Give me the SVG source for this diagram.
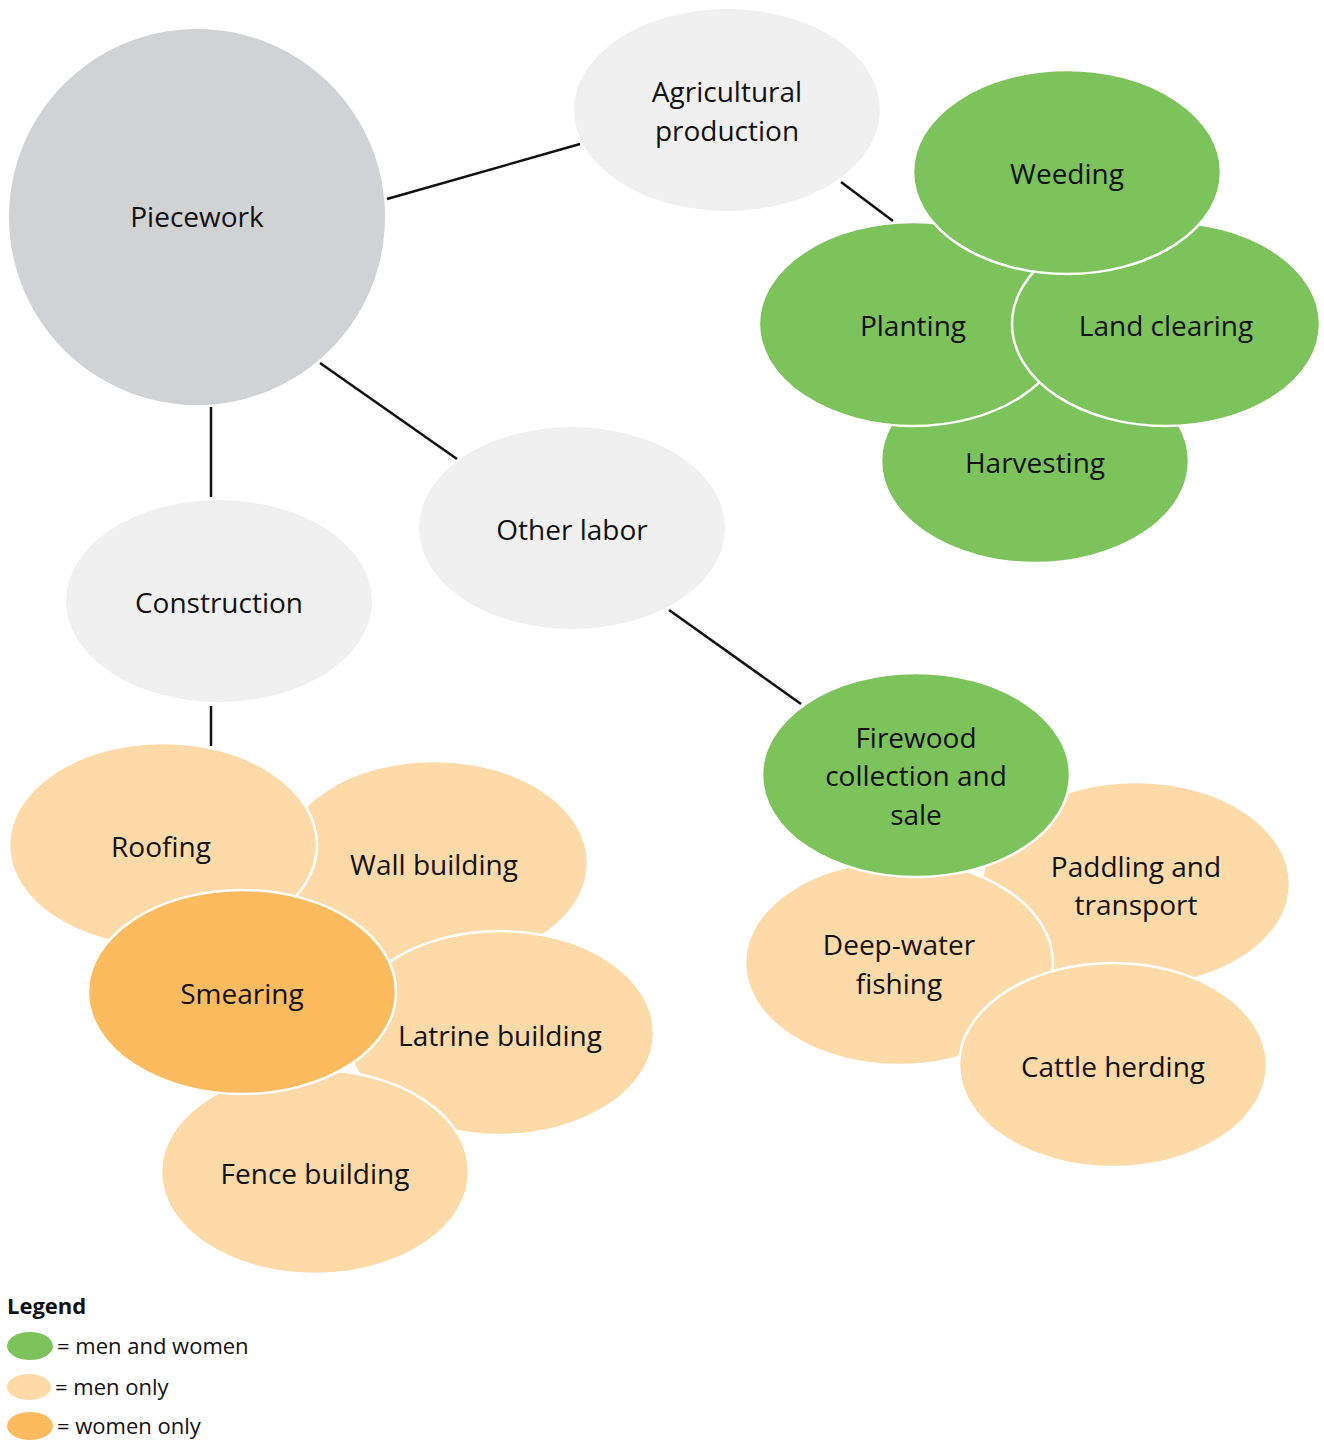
<svg xmlns="http://www.w3.org/2000/svg" width="1324" height="1443" viewBox="0 0 1324 1443">
<style>
text{font-family:"Open Sans","Liberation Sans",sans-serif;font-size:28px;fill:#111;text-anchor:middle}
.g{fill:#7dc35c;stroke:#fff;stroke-width:2.5}
.m{fill:#fddaa8;stroke:#fff;stroke-width:2.5}
.w{fill:#fdbb60;stroke:#fff;stroke-width:2.5}
.c{fill:#f0f0f0}
.conn line{stroke:#111;stroke-width:2.5}
.lg{font-size:22px;text-anchor:start}
</style>
<rect width="1324" height="1443" fill="#fff"/>
<g class="conn" id="connectors">
<line x1="387" y1="199" x2="580" y2="144"/>
<line x1="841" y1="182" x2="893" y2="221"/>
<line x1="320" y1="363" x2="457" y2="459"/>
<line x1="211" y1="407" x2="211" y2="497"/>
<line x1="669" y1="610" x2="801" y2="704"/>
<line x1="211" y1="706" x2="211" y2="746"/>
</g>
<g id="piecework"><circle cx="197" cy="217" r="188" fill="#d1d2d4"/><text x="197" y="227">Piecework</text></g>
<g id="agri"><ellipse class="c" cx="727" cy="110" rx="153" ry="101"/><text x="727" y="102">Agricultural</text><text x="727" y="141">production</text></g>
<g id="other"><ellipse class="c" cx="572" cy="528" rx="153" ry="101"/><text x="572" y="540">Other labor</text></g>
<g id="construction"><ellipse class="c" cx="219" cy="601" rx="153" ry="101"/><text x="219" y="613">Construction</text></g>
<g id="harvesting"><ellipse class="g" cx="1035" cy="461" rx="154" ry="102"/><text x="1035" y="473">Harvesting</text></g>
<g id="planting"><ellipse class="g" cx="913" cy="324" rx="154" ry="102"/><text x="913" y="336">Planting</text></g>
<g id="landclearing"><ellipse class="g" cx="1166" cy="324" rx="154" ry="102"/><text x="1166" y="336">Land clearing</text></g>
<g id="weeding"><ellipse class="g" cx="1067" cy="172" rx="154" ry="102"/><text x="1067" y="184">Weeding</text></g>
<g id="wall"><ellipse class="m" cx="434" cy="863" rx="154" ry="102"/><text x="434" y="875">Wall building</text></g>
<g id="roofing"><ellipse class="m" cx="163" cy="845" rx="154" ry="102"/><text x="161" y="857">Roofing</text></g>
<g id="latrine"><ellipse class="m" cx="500" cy="1033" rx="154" ry="102"/><text x="500" y="1046">Latrine building</text></g>
<g id="fence"><ellipse class="m" cx="315" cy="1172" rx="154" ry="102"/><text x="315" y="1184">Fence building</text></g>
<g id="smearing"><ellipse class="w" cx="242" cy="992" rx="154" ry="102"/><text x="242" y="1004">Smearing</text></g>
<g id="paddling"><ellipse class="m" cx="1136" cy="884" rx="154" ry="102"/><text x="1136" y="877">Paddling and</text><text x="1136" y="915">transport</text></g>
<g id="deepwater"><ellipse class="m" cx="899" cy="963" rx="154" ry="102"/><text x="899" y="955">Deep-water</text><text x="899" y="994">fishing</text></g>
<g id="cattle"><ellipse class="m" cx="1113" cy="1065" rx="154" ry="102"/><text x="1113" y="1077">Cattle herding</text></g>
<g id="firewood"><ellipse class="g" cx="916" cy="775" rx="154" ry="102"/><text x="916" y="748">Firewood</text><text x="916" y="786">collection and</text><text x="916" y="825">sale</text></g>
<g id="legend">
<text class="lg" x="7" y="1314" style="font-weight:bold">Legend</text>
<ellipse cx="30" cy="1346" rx="23" ry="14" fill="#7dc35c"/><text class="lg" x="57" y="1354">= men and women</text>
<ellipse cx="29" cy="1387" rx="22" ry="13" fill="#fddaa8"/><text class="lg" x="55" y="1395">= men only</text>
<ellipse cx="30" cy="1426" rx="23" ry="14" fill="#fdbb60"/><text class="lg" x="57" y="1434">= women only</text>
</g>
</svg>
